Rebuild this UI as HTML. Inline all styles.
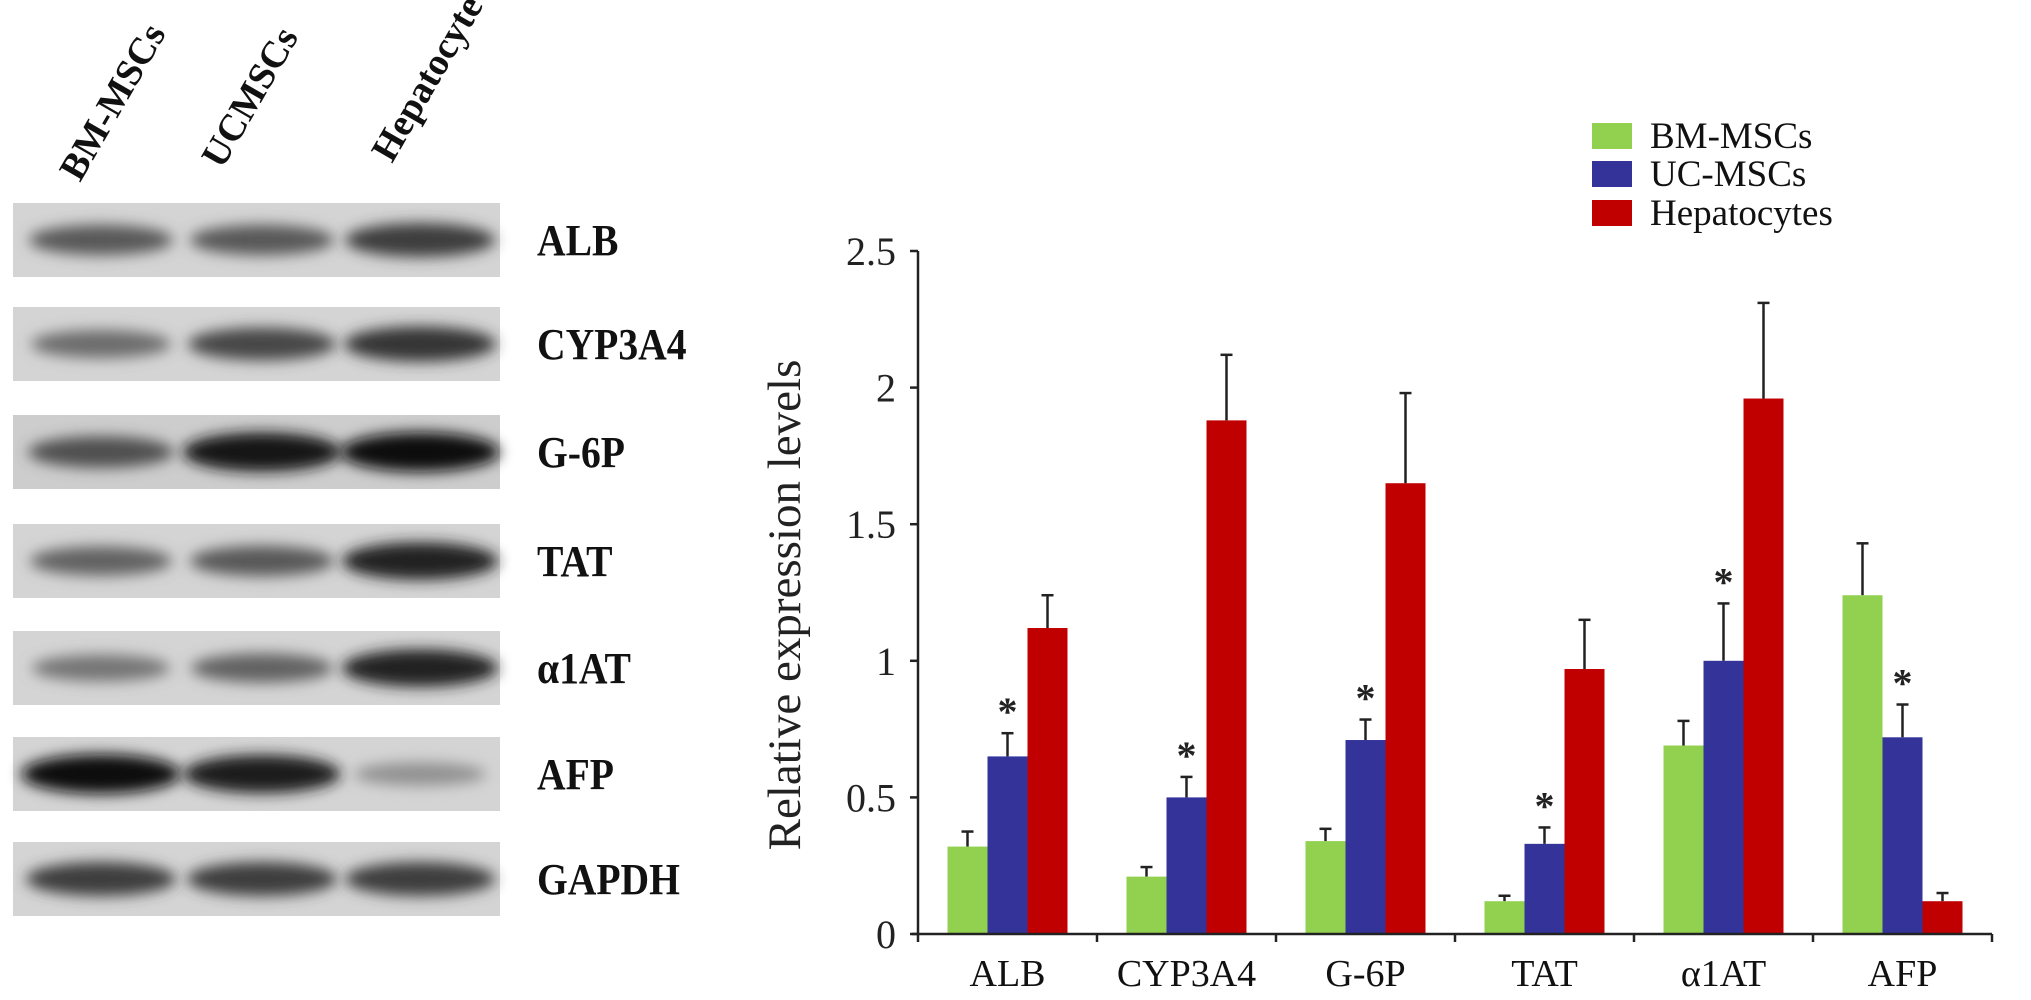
<!DOCTYPE html>
<html><head><meta charset="utf-8">
<style>
html,body{margin:0;padding:0;background:#fff;width:2031px;height:1000px;overflow:hidden}
svg{display:block;font-family:"Liberation Serif",serif}
</style></head>
<body>
<svg id="fig" width="2031" height="1000" viewBox="0 0 2031 1000" xmlns="http://www.w3.org/2000/svg">
<defs>
<filter id="blur" x="-30%" y="-80%" width="160%" height="260%"><feGaussianBlur stdDeviation="7"/></filter>
</defs>
<g id="blot"></g>
<g id="chart"></g>
</svg>
<script>
const NS="http://www.w3.org/2000/svg";
function mk(tag,attrs,parent,text){const e=document.createElementNS(NS,tag);for(const k in attrs)e.setAttribute(k,attrs[k]);if(text!==undefined)e.textContent=text;parent.appendChild(e);return e;}

/* ---------- Western blot ---------- */
const blotRows=["ALB","CYP3A4","G-6P","TAT","α1AT","AFP","GAPDH"];
const blotTops=[203,307,415,524,631,737,842];
const blotIntensity=[[0.6,0.6,0.75],[0.5,0.7,0.8],[0.65,0.97,0.99],[0.55,0.6,0.9],[0.45,0.55,0.9],[0.99,0.93,0.3],[0.75,0.75,0.75]];
const laneNames=["BM-MSCs","UCMSCs","Hepatocyte"];
const blot=document.getElementById('blot');
const laneX=[101,262,420];
blotRows.forEach((r,i)=>{
  const y=blotTops[i];
  const box=mk('rect',{x:13,y:y,width:487,height:74,fill:i==2?'#cdcdcd':'#d4d4d4'},blot);
  
  
  laneX.forEach((cx,j)=>{
    const v=blotIntensity[i][j];
    const g=Math.round(200-185*v);
    const band=mk('ellipse',{cx:cx,cy:y+37,rx:60+20*v,ry:8+12*v,fill:`rgb(${g},${g},${g})`,filter:'url(#blur)'},blot);
    
    
  });
  const t=mk('text',{x:537,y:y+52,'font-size':44,'font-weight':'bold',fill:'#111',transform:`translate(537 0) scale(0.9 1) translate(-537 0)`},blot,r);
  
  
});
const colPos=[[80,183],[222,170],[392,164]];
laneNames.forEach((n,i)=>{
  const t=mk('text',{x:colPos[i][0],y:colPos[i][1],'font-size':38,'font-weight':'bold',fill:'#111',transform:`rotate(-60 ${colPos[i][0]} ${colPos[i][1]})`},blot,n);
  
  
});

/* ---------- Bar chart data ---------- */
const categories=["ALB","CYP3A4","G-6P","TAT","α1AT","AFP"];
const seriesNames=["BM-MSCs","UC-MSCs","Hepatocytes"];
const bmValues=[0.32,0.21,0.34,0.12,0.69,1.24];
const bmErrTop=[0.375,0.245,0.385,0.14,0.78,1.43];
const ucValues=[0.65,0.50,0.71,0.33,1.00,0.72];
const ucErrTop=[0.735,0.575,0.785,0.39,1.21,0.84];
const hepValues=[1.12,1.88,1.65,0.97,1.96,0.12];
const hepErrTop=[1.24,2.12,1.98,1.15,2.31,0.15];
const yTicks=[0,0.5,1,1.5,2,2.5];
const yTickLabels=["0","0.5","1","1.5","2","2.5"];

const chart=document.getElementById('chart');
const X0=918,X1=1992,Y0=934,Ytop=251,YMAX=2.5;
const band=(X1-X0)/categories.length;
const bw=40;
const colors=["#92d050","#333399","#c00000"];
function yS(v){return Y0-(v/YMAX)*(Y0-Ytop);}
function xS(ci,si){return X0+ci*band+(band-3*bw)/2+si*bw;}

const vals=[bmValues,ucValues,hepValues];
const errs=[bmErrTop,ucErrTop,hepErrTop];
const keys=["bm","uc","hep"];
categories.forEach((c,ci)=>{
  vals.forEach((arr,si)=>{
    const x=xS(ci,si),top=yS(arr[ci]);
    const ex=x+bw/2,ey=yS(errs[si][ci]);
    const el=mk('line',{x1:ex,y1:top,x2:ex,y2:ey,stroke:'#222','stroke-width':2.5},chart);
    
    
    const cap=mk('line',{x1:ex-6,y1:ey,x2:ex+6,y2:ey,stroke:'#222','stroke-width':2.5},chart);
    
    
    const r=mk('rect',{x:x,y:top,width:bw,height:Y0-top,fill:colors[si]},chart);
    
    
    if(si===1){
      const s=mk('text',{x:ex,y:ey-8,'font-size':40,'font-weight':'bold','text-anchor':'middle',fill:'#222'},chart,'*');
      
      
    }
  });
  const tk=mk('line',{x1:X0+(ci+1)*band,y1:Y0,x2:X0+(ci+1)*band,y2:Y0+8,stroke:'#222','stroke-width':2.5},chart);
  
  
  const lb=mk('text',{x:X0+ci*band+band/2,y:Y0+52,'font-size':38,'text-anchor':'middle',fill:'#111'},chart,c);
  
  
});
const ya=mk('line',{x1:X0,y1:Ytop,x2:X0,y2:Y0+8,stroke:'#222','stroke-width':2.5},chart);

const xa=mk('line',{x1:X0-6,y1:Y0,x2:X1,y2:Y0,stroke:'#222','stroke-width':2.5},chart);

yTicks.forEach((v,i)=>{
  const t=mk('line',{x1:X0-8,y1:yS(v),x2:X0,y2:yS(v),stroke:'#222','stroke-width':2.5},chart);
  
  
  const l=mk('text',{x:X0-22,y:yS(v)+14,'font-size':40,'text-anchor':'end',fill:'#222'},chart,yTickLabels[i]);
  
  
});
const yt=mk('text',{x:800,y:605,'font-size':47,'text-anchor':'middle',fill:'#222',transform:'rotate(-90 800 605)'},chart,'Relative expression levels');


const legY=[136,174,213];
seriesNames.forEach((n,i)=>{
  const r=mk('rect',{x:1592,y:legY[i]-13,width:40,height:26,fill:colors[i]},chart);
  
  
  const t=mk('text',{x:1650,y:legY[i]+12,'font-size':37,fill:'#111'},chart,n);
  
  
});
</script>
</body></html>
